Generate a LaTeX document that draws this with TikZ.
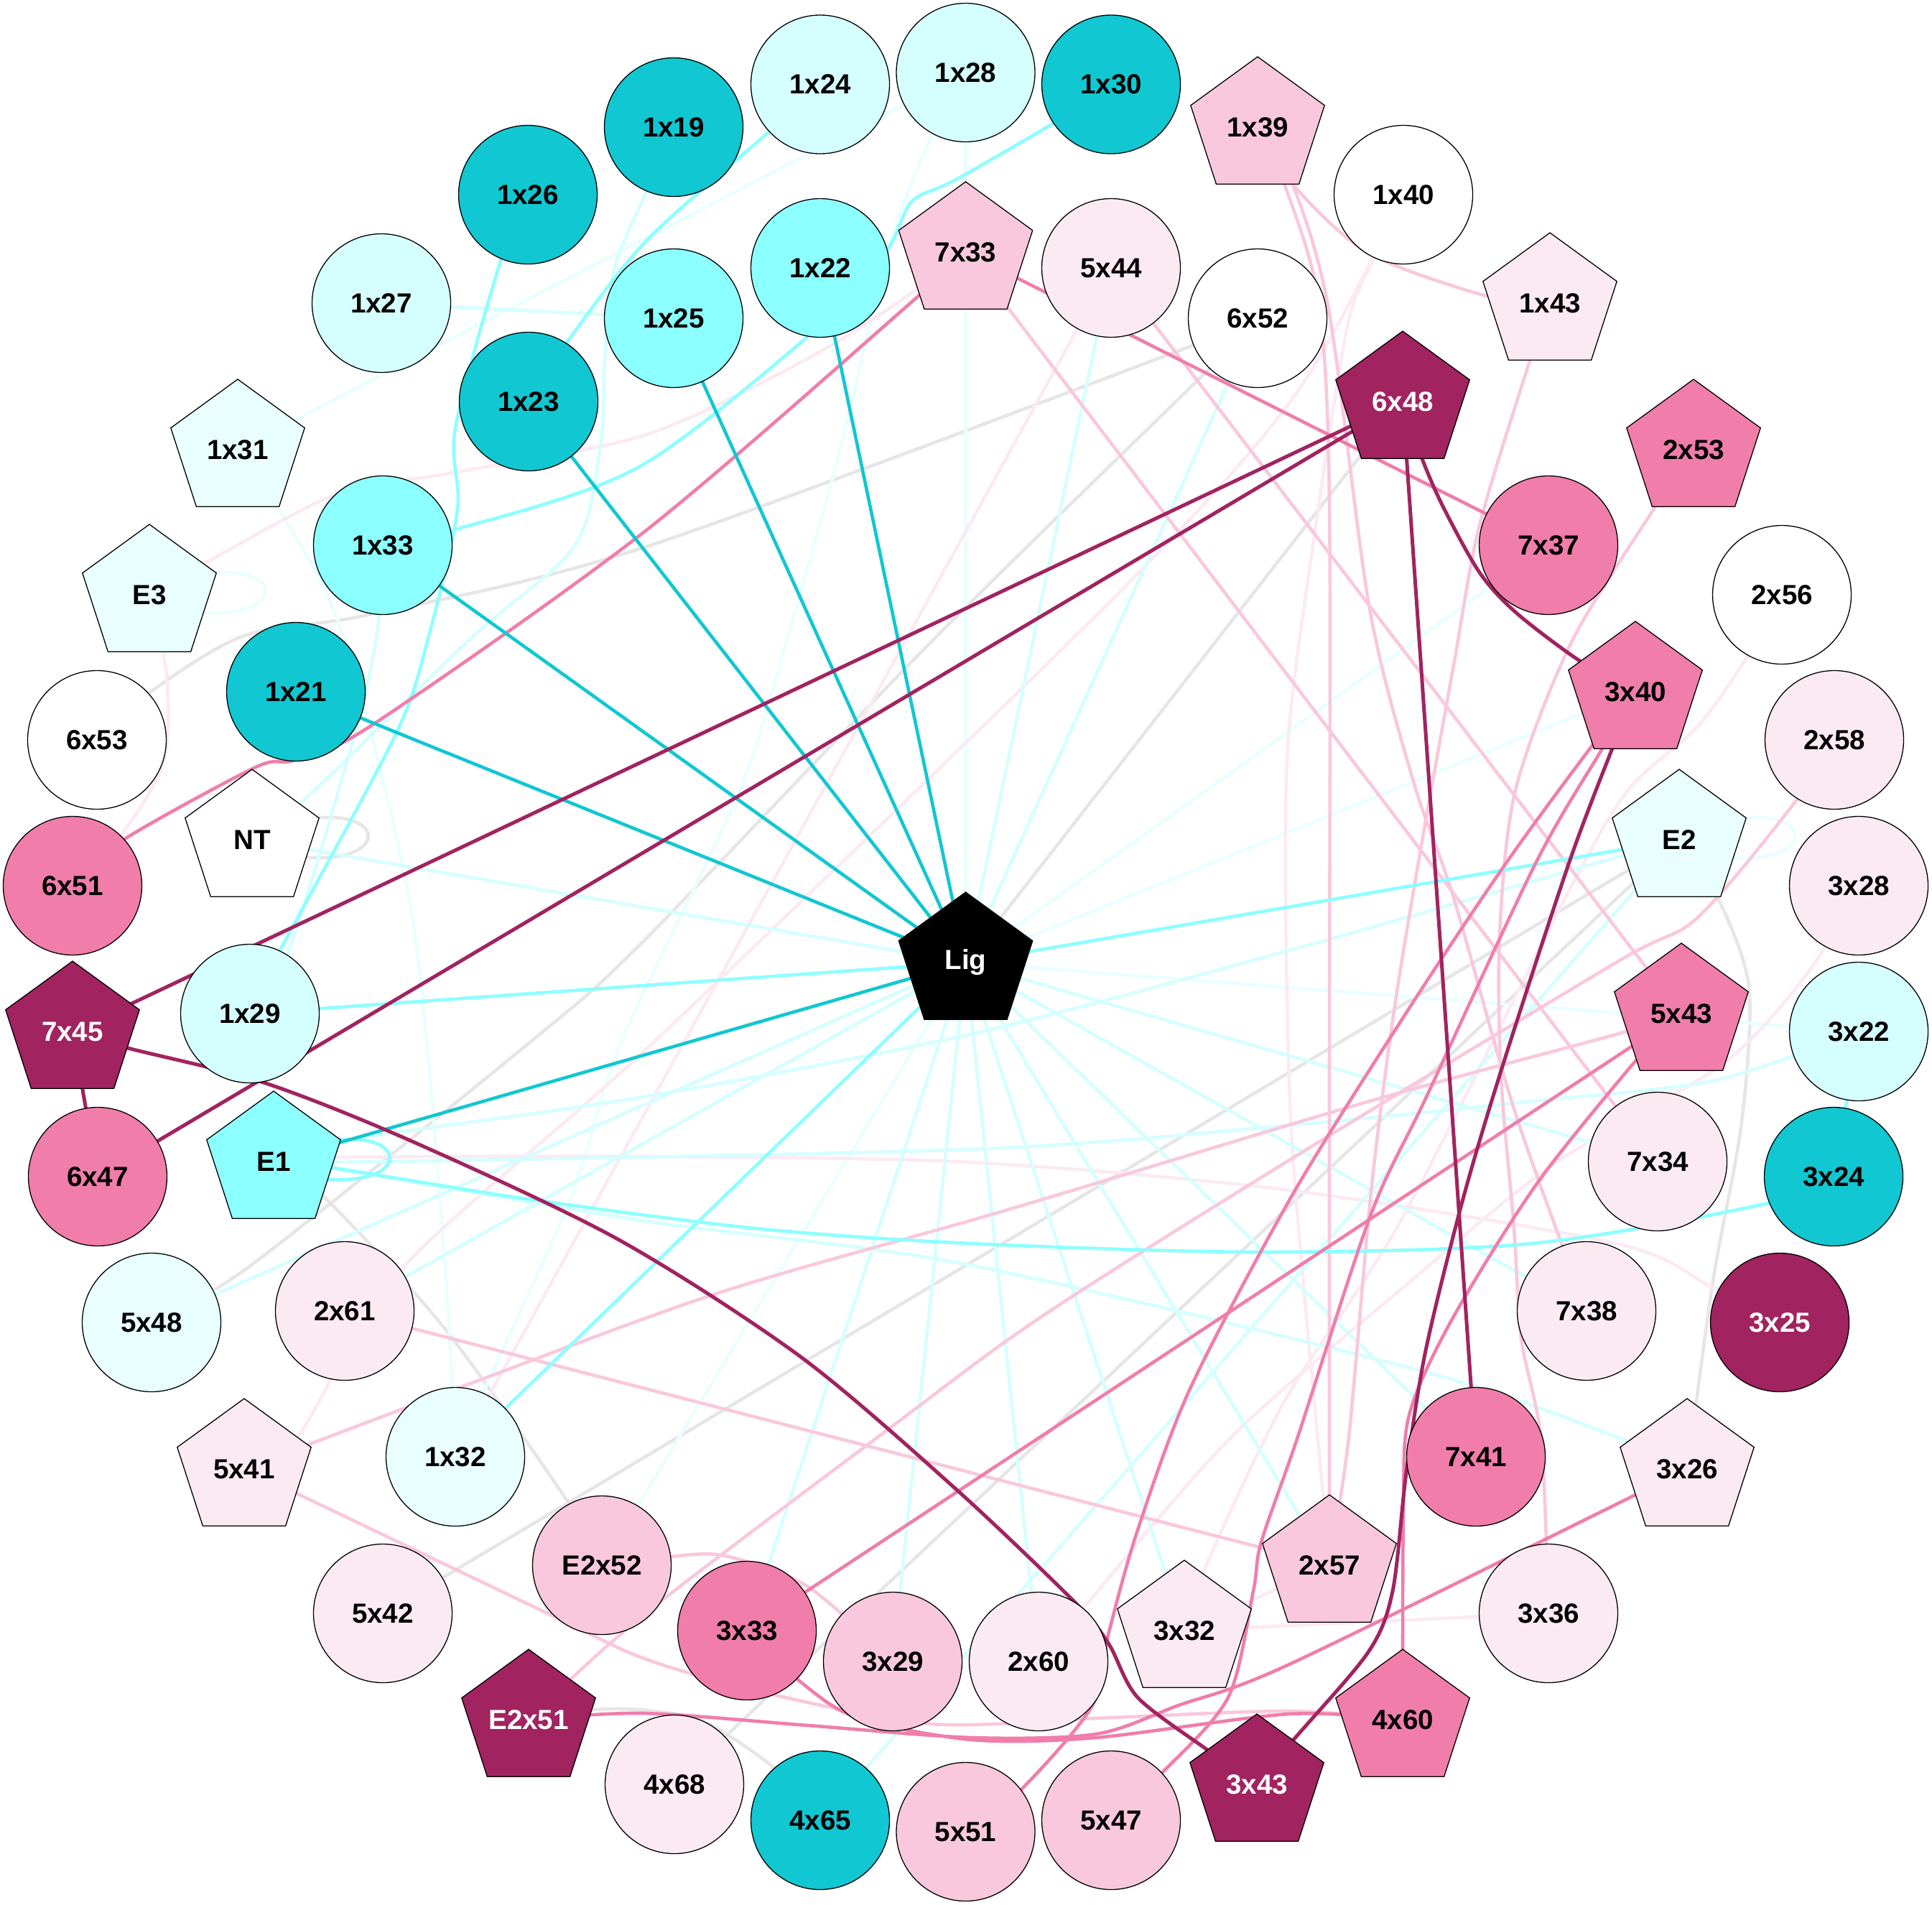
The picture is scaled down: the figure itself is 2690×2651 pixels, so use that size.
\documentclass[tikz,border=0pt]{standalone}
\usepackage{fontspec}
\setmainfont{Liberation Sans}
\usetikzlibrary{shapes.geometric,backgrounds}
\definecolor{cT}{HTML}{11C7D1}
\definecolor{cC}{HTML}{8CFFFF}
\definecolor{cLC}{HTML}{D5FFFF}
\definecolor{cVLC}{HTML}{E9FFFF}
\definecolor{cDM}{HTML}{A12360}
\definecolor{cP}{HTML}{F07DAA}
\definecolor{cLP}{HTML}{F9C8DC}
\definecolor{cVLP}{HTML}{FCEAF2}
\definecolor{cG}{HTML}{E6E6E6}
\begin{document}
\begin{tikzpicture}[x=1pt,y=-1pt,
  nbase/.style={draw=black, line width=1.3pt, inner sep=0pt, text=black,
    font=\fontsize{38.5}{46}\selectfont\bfseries},
  circ/.style={nbase, circle, minimum size=193pt},
  pent/.style={nbase, regular polygon, regular polygon sides=5, minimum size=196pt},
  dark/.style={text=white},
  edg/.style={line width=4.6pt, line cap=round},
  eT/.style={edg, draw=cT},
  eC/.style={edg, draw=cC},
  eLC/.style={edg, draw=cLC},
  eVLC/.style={edg, draw=cVLC},
  eDM/.style={edg, draw=cDM, line width=5pt},
  eP/.style={edg, draw=cP},
  eLP/.style={edg, draw=cLP},
  eVLP/.style={edg, draw=cVLP},
  eG/.style={edg, draw=cG},
  sm/.style={smooth, tension=0.5}
]
\useasboundingbox (0,0) rectangle (2690,2651);

% ---------- circles ----------
\node[circ, fill=cLC] (n1x24) at (1142,117.5) {1x24};
\node[circ, fill=cLC] (n1x28) at (1344.5,101) {1x28};
\node[circ, fill=cT] (n1x30) at (1547,117.5) {1x30};
\node[circ, fill=cT] (n1x19) at (938,177) {1x19};
\node[circ, fill=cT] (n1x26) at (735,271) {1x26};
\node[circ, fill=white] (n1x40) at (1954,271) {1x40};
\node[circ, fill=cC] (n1x22) at (1142,373) {1x22};
\node[circ, fill=cVLP] (n5x44) at (1547,373) {5x44};
\node[circ, fill=cLC] (n1x27) at (531,422) {1x27};
\node[circ, fill=cC] (n1x25) at (938,443) {1x25};
\node[circ, fill=white] (n6x52) at (1751,443) {6x52};
\node[circ, fill=cT] (n1x23) at (736,559) {1x23};
\node[circ, fill=cC] (n1x33) at (533,759) {1x33};
\node[circ, fill=cP] (n7x37) at (2156,759) {7x37};
\node[circ, fill=white] (n2x56) at (2481,828) {2x56};
\node[circ, fill=cT] (n1x21) at (412,963) {1x21};
\node[circ, fill=white] (n6x53) at (135,1030) {6x53};
\node[circ, fill=cVLP] (n2x58) at (2554,1030) {2x58};
\node[circ, fill=cP] (n6x51) at (101,1233) {6x51};
\node[circ, fill=cVLP] (n3x28) at (2588,1233) {3x28};
\node[circ, fill=cLC] (n1x29) at (348,1411) {1x29};
\node[circ, fill=cLC] (n3x22) at (2588,1436) {3x22};
\node[circ, fill=cVLP] (n7x34) at (2308,1617) {7x34};
\node[circ, fill=cP] (n6x47) at (136,1638) {6x47};
\node[circ, fill=cT] (n3x24) at (2553,1638) {3x24};
\node[circ, fill=cVLP] (n2x61) at (480,1825) {2x61};
\node[circ, fill=cVLP] (n7x38) at (2209,1825) {7x38};
\node[circ, fill=cVLC] (n5x48) at (211,1841) {5x48};
\node[circ, fill=cDM, dark] (n3x25) at (2478,1841) {3x25};
\node[circ, fill=cVLC] (n1x32) at (634,2028) {1x32};
\node[circ, fill=cP] (n7x41) at (2055,2028) {7x41};
\node[circ, fill=cLP] (nE2x52) at (838,2179) {E2x52};
\node[circ, fill=cVLP] (n5x42) at (533,2246) {5x42};
\node[circ, fill=cVLP] (n3x36) at (2156,2246) {3x36};
\node[circ, fill=cP] (n3x33) at (1040,2270) {3x33};
\node[circ, fill=cLP] (n3x29) at (1243,2313) {3x29};
\node[circ, fill=cVLP] (n2x60) at (1446,2313) {2x60};
\node[circ, fill=cVLP] (n4x68) at (939,2484) {4x68};
\node[circ, fill=cT] (n4x65) at (1142,2534) {4x65};
\node[circ, fill=cLP] (n5x47) at (1547,2534) {5x47};
\node[circ, fill=cLP] (n5x51) at (1344.5,2550) {5x51};

% ---------- pentagons ----------
\node[pent, fill=cLP] (n1x39) at (1751,177) {1x39};
\node[pent, fill=cLP] (n7x33) at (1344.5,351) {7x33};
\node[pent, fill=cVLP] (n1x43) at (2158,422) {1x43};
\node[pent, fill=cDM, dark] (n6x48) at (1953,559) {6x48};
\node[pent, fill=cVLC] (n1x31) at (331,626) {1x31};
\node[pent, fill=cP] (n2x53) at (2358,626) {2x53};
\node[pent, fill=cVLC] (nE3) at (208,828) {E3};
\node[pent, fill=cP] (n3x40) at (2277,963) {3x40};
\node[pent, fill=white] (nNT) at (351,1169) {NT};
\node[pent, fill=cVLC] (nE2) at (2338,1169) {E2};
\node[pent, fill=black, dark] (nLig) at (1344.5,1340) {Lig};
\node[pent, fill=cP] (n5x43) at (2341,1411) {5x43};
\node[pent, fill=cDM, dark] (n7x45) at (101,1436) {7x45};
\node[pent, fill=cC] (nE1) at (381,1617) {E1};
\node[pent, fill=cVLP] (n5x41) at (340,2045) {5x41};
\node[pent, fill=cVLP] (n3x26) at (2349,2045) {3x26};
\node[pent, fill=cLP] (n2x57) at (1851,2179) {2x57};
\node[pent, fill=cVLP] (n3x32) at (1649,2270) {3x32};
\node[pent, fill=cDM, dark] (nE2x51) at (736,2394) {E2x51};
\node[pent, fill=cP] (n4x60) at (1953,2394) {4x60};
\node[pent, fill=cDM, dark] (n3x43) at (1750,2484) {3x43};

\begin{scope}[on background layer]
\fill[white] (0,0) rectangle (2690,2651);

% ---------- gray ----------
\draw[eG] (nLig.center) -- (n6x48.center);
\draw[eG] plot[sm] coordinates {(n6x53.center) (207,965) (340,885) (517,855) (900,761) (1658,482) (n6x52.center)};
\draw[eG] plot[sm] coordinates {(n5x48.center) (350,1761) (739,1450) (895,1311) (1300,890) (1681,516) (n6x52.center)};
\draw[eG] (n5x42.center) -- (nE2.center);
\draw[eG] (n4x68.center) -- (nE2.center);
\draw[eG] plot[sm] coordinates {(nE1.center) (452,1667) (618,1848) (790,2090) (nE2x52.center)};
\draw[eG] plot[sm] coordinates {(nE2x51.center) (827,2380) (900,2381) (981,2397) (1079,2462) (n4x65.center)};
\draw[eG] plot[sm] coordinates {(nE2.center) (2390,1246) (2435,1374) (2425,1562) (2387,1771) (2362,1950) (n3x26.center)};
\draw[eG] (nNT.corner 5) .. controls (538,1131) and (538,1201) .. (nNT.side 4);

% ---------- very light cyan ----------
\draw[eVLC] (nLig.center) -- (n1x28.center);
\draw[eVLC] (nLig.center) -- (n7x37.center);
\draw[eVLC] (nLig.center) -- (n3x40.center);
\draw[eVLC] (nLig.center) -- (n3x22.center);
\draw[eVLC] (nLig.center) -- (nE2x52.center);
\draw[eVLC] (n1x31.center) -- (n1x28.center);
\draw[eVLC] plot[sm] coordinates {(n1x31.center) (390,712) (476,880) (574,1277) (620,1770) (n1x32.center)};
\draw[eVLC] plot[sm] coordinates {(n1x28.center) (1297,190) (1239,340) (1170,624) (1096,890) (1027,1107) (865,1450) (796,1664) (678,1927) (n1x32.center)};
\draw[eVLC] (nE3.corner 5) .. controls (395,790) and (395,860) .. (nE3.side 4);
\draw[eVLC] (nE2.corner 5) .. controls (2525,1131) and (2525,1201) .. (nE2.side 4);

% ---------- very light pink ----------
\draw[eVLP] plot[sm] coordinates {(nE3.center) (287,783) (471,687) (631,658) (900,605) (1125,499) (1268,409) (n7x33.center)};
\draw[eVLP] plot[sm] coordinates {(n6x51.center) (172,1158) (228,1060) (232,940) (nE3.center)};
\draw[eVLP] (n5x44.center) -- (n1x32.center);
\draw[eVLP] plot[sm] coordinates {(n1x40.center) (1910,363) (1790,568) (1550,833) (911,1450) (560,1766) (414,2001) (n5x41.center)};
\draw[eVLP] plot[sm] coordinates {(n1x40.center) (1913,360) (1877,450) (1836,705) (1795,1011) (1790,1250) (1797,1557) (1817,1812) (1842,2079) (n2x57.center)};
\draw[eVLP] plot[sm] coordinates {(nE1.center) (471,1611) (900,1610) (1350,1618) (1795,1657) (2250,1731) (2384,1792) (n3x25.center)};
\draw[eVLP] plot[sm] coordinates {(n3x28.center) (2520,1350) (2400,1480) (2164,1620) (1960,1787) (1715,2000) (1509,2238) (n2x60.center)};
\draw[eVLP] plot[sm] coordinates {(n2x56.center) (2433,914) (2364,1011) (2266,1101) (2180,1249) (1950,1700) (1790,1948) (1676,2187) (n3x32.center)};
\draw[eVLP] (n3x32.center) -- (n3x36.center);
\draw[eVLP] (n3x32.center) -- (n2x57.center);

% ---------- light cyan ----------
\draw[eLC] (nLig.center) -- (nNT.center);
\draw[eLC] (nLig.center) -- (n5x44.center);
\draw[eLC] (nLig.center) -- (n6x52.center);
\draw[eLC] (nLig.center) -- (n7x34.center);
\draw[eLC] (nLig.center) -- (n7x38.center);
\draw[eLC] (nLig.center) -- (n2x61.center);
\draw[eLC] (nLig.center) -- (n5x48.center);
\draw[eLC] (nLig.center) -- (n3x33.center);
\draw[eLC] (nLig.center) -- (n3x29.center);
\draw[eLC] (nLig.center) -- (n2x60.center);
\draw[eLC] (nLig.center) -- (n3x32.center);
\draw[eLC] (nLig.center) -- (n2x57.center);
\draw[eLC] (nLig.center) -- (n7x41.center);
\draw[eLC] (n1x27.center) -- (n1x25.center);
\draw[eLC] plot[sm] coordinates {(n1x33.center) (525,880) (494,1022) (402,1323) (n1x29.center)};
\draw[eLC] plot[sm] coordinates {(n1x19.center) (900,267) (855,375) (842,500) (836,620) (800,760) (654,890) (419,1118) (nNT.center)};
\draw[eLC] plot[sm] coordinates {(nE1.center) (477,1588) (895,1527) (1350,1440) (1795,1323) (2266,1189) (nE2.center)};
\draw[eLC] plot[sm] coordinates {(nE1.center) (471,1618) (1350,1600) (1790,1567) (2134,1533) (2387,1504) (n3x22.center)};
\draw[eLC] plot[sm] coordinates {(nE1.center) (478,1629) (900,1700) (1350,1761) (1981,1909) (2250,2000) (n3x26.center)};
\draw[eLC] (n4x65.center) -- (nE2.center);

% ---------- light pink ----------
\draw[eLP] (n7x33.center) -- (n7x34.center);
\draw[eLP] (n5x44.center) -- (n5x43.center);
\draw[eLP] plot[sm] coordinates {(n1x39.center) (1801,258) (1905,352) (2066,411) (n1x43.center)};
\draw[eLP] plot[sm] coordinates {(n1x39.center) (1790,261) (1836,420) (1851,700) (1851,1500) (n2x57.center)};
\draw[eLP] plot[sm] coordinates {(n1x39.center) (1799,255) (1850,431) (1907,848) (1968,1088) (2024,1250) (2110,1550) (n7x38.center)};
\draw[eLP] plot[sm] coordinates {(n1x43.center) (2131,499) (2060,731) (2025,920) (1975,1200) (1940,1414) (1909,1659) (1878,2000) (n2x57.center)};
\draw[eLP] plot[sm] coordinates {(n2x53.center) (2305,705) (2188,894) (2110,1100) (2088,1300) (2090,1500) (2108,1710) (2118,1863) (2146,2005) (n3x36.center)};
\draw[eLP] plot[sm] coordinates {(n2x58.center) (2502,1113) (2364,1277) (2250,1340) (1800,1612) (1450,1833) (1239,1988) (895,2249) (nE2x51.center)};
\draw[eLP] (n2x61.center) -- (n2x57.center);
\draw[eLP] plot[sm] coordinates {(n5x41.center) (631,1935) (1000,1800) (1400,1685) (1900,1535) (2250,1440) (n5x43.center)};
\draw[eLP] plot[sm] coordinates {(n5x41.center) (413,2079) (771,2250) (900,2310) (1067,2357) (1297,2400) (1526,2392) (1795,2382) (n4x60.center)};
\draw[eLP] plot[sm] coordinates {(nE2x52.center) (933,2167) (1010,2166) (1125,2209) (n3x29.center)};

% ---------- cyan ----------
\draw[eC] (nLig.center) -- (nE2.center);
\draw[eC] (nLig.center) -- (n1x29.center);
\draw[eC] (nLig.center) -- (n1x32.center);
\draw[eC] plot[sm] coordinates {(n1x26.center) (697,363) (634,596) (637,709) (597,885) (551,1022) (390,1323) (n1x29.center)};
\draw[eC] plot[sm] coordinates {(n1x24.center) (1070,184) (900,335) (789,477) (n1x23.center)};
\draw[eC] plot[sm] coordinates {(n1x33.center) (631,738) (895,647) (1180,420) (1240,340) (1270,280) (1331,250) (1469,170) (n1x30.center)};
\draw[eC] plot[sm] coordinates {(nE1.center) (465,1626) (733,1669) (1051,1710) (1350,1731) (1756,1743) (2134,1731) (2462,1675) (n3x24.center)};
\draw[eC] (n3x22.center) -- (n3x24.center);
\draw[eC] (nE1.corner 5) .. controls (568,1579) and (568,1649) .. (nE1.side 4);

% ---------- pink ----------
\draw[eP] (n7x33.center) -- (n7x37.center);
\draw[eP] plot[sm] coordinates {(n7x33.center) (1280,411) (900,738) (517,1010) (410,1058) (356,1068) (172,1169) (n6x51.center)};
\draw[eP] (n5x43.center) -- (n3x33.center);
\draw[eP] plot[sm] coordinates {(n3x40.center) (2216,1039) (2098,1200) (1965,1399) (1802,1659) (1658,1931) (1584,2130) (1544,2272) (1521,2374) (1423,2490) (n5x51.center)};
\draw[eP] plot[sm] coordinates {(n3x40.center) (2231,1042) (2139,1200) (1986,1527) (1909,1690) (1807,2000) (1756,2147) (1745,2215) (1710,2363) (1618,2468) (n5x47.center)};
\draw[eP] plot[sm] coordinates {(n5x43.center) (2278,1476) (2139,1649) (2021,1838) (1962,1970) (1954,2100) (n4x60.center)};
\draw[eP] plot[sm] coordinates {(nE2x51.center) (895,2385) (1125,2402) (1354,2419) (1526,2414) (1641,2374) (1795,2317) (2275,2082) (n3x26.center)};
\draw[eP] plot[sm] coordinates {(n3x33.center) (1113,2340) (1193,2391) (1354,2422) (1526,2419) (1795,2386) (n4x60.center)};

% ---------- teal ----------
\draw[eT] (nLig.center) -- (n1x23.center);
\draw[eT] (nLig.center) -- (n1x25.center);
\draw[eT] (nLig.center) -- (n1x22.center);
\draw[eT] (nLig.center) -- (n1x33.center);
\draw[eT] (nLig.center) -- (n1x21.center);
\draw[eT] (nLig.center) -- (nE1.center);

% ---------- dark magenta ----------
\draw[eDM] (n6x48.center) -- (n7x45.center);
\draw[eDM] (n6x48.center) -- (n6x47.center);
\draw[eDM] (n6x48.center) -- (n7x41.center);
\draw[eDM] (n7x45.center) -- (n6x47.center);
\draw[eDM] plot[sm] coordinates {(n6x48.center) (1979,636) (2009,705) (2060,797) (2111,853) (2198,919) (n3x40.center)};
\draw[eDM] plot[sm] coordinates {(n3x40.center) (2246,1039) (2185,1200) (2093,1481) (2037,1669) (1985,1880) (1958,2050) (1939,2215) (1905,2300) (1801,2422) (n3x43.center)};
\draw[eDM] plot[sm] coordinates {(n7x45.center) (178,1459) (367,1507) (574,1589) (860,1725) (1115,1889) (1331,2073) (1498,2232) (1544,2289) (1584,2363) (1681,2436) (n3x43.center)};
\end{scope}
\end{tikzpicture}
\end{document}
